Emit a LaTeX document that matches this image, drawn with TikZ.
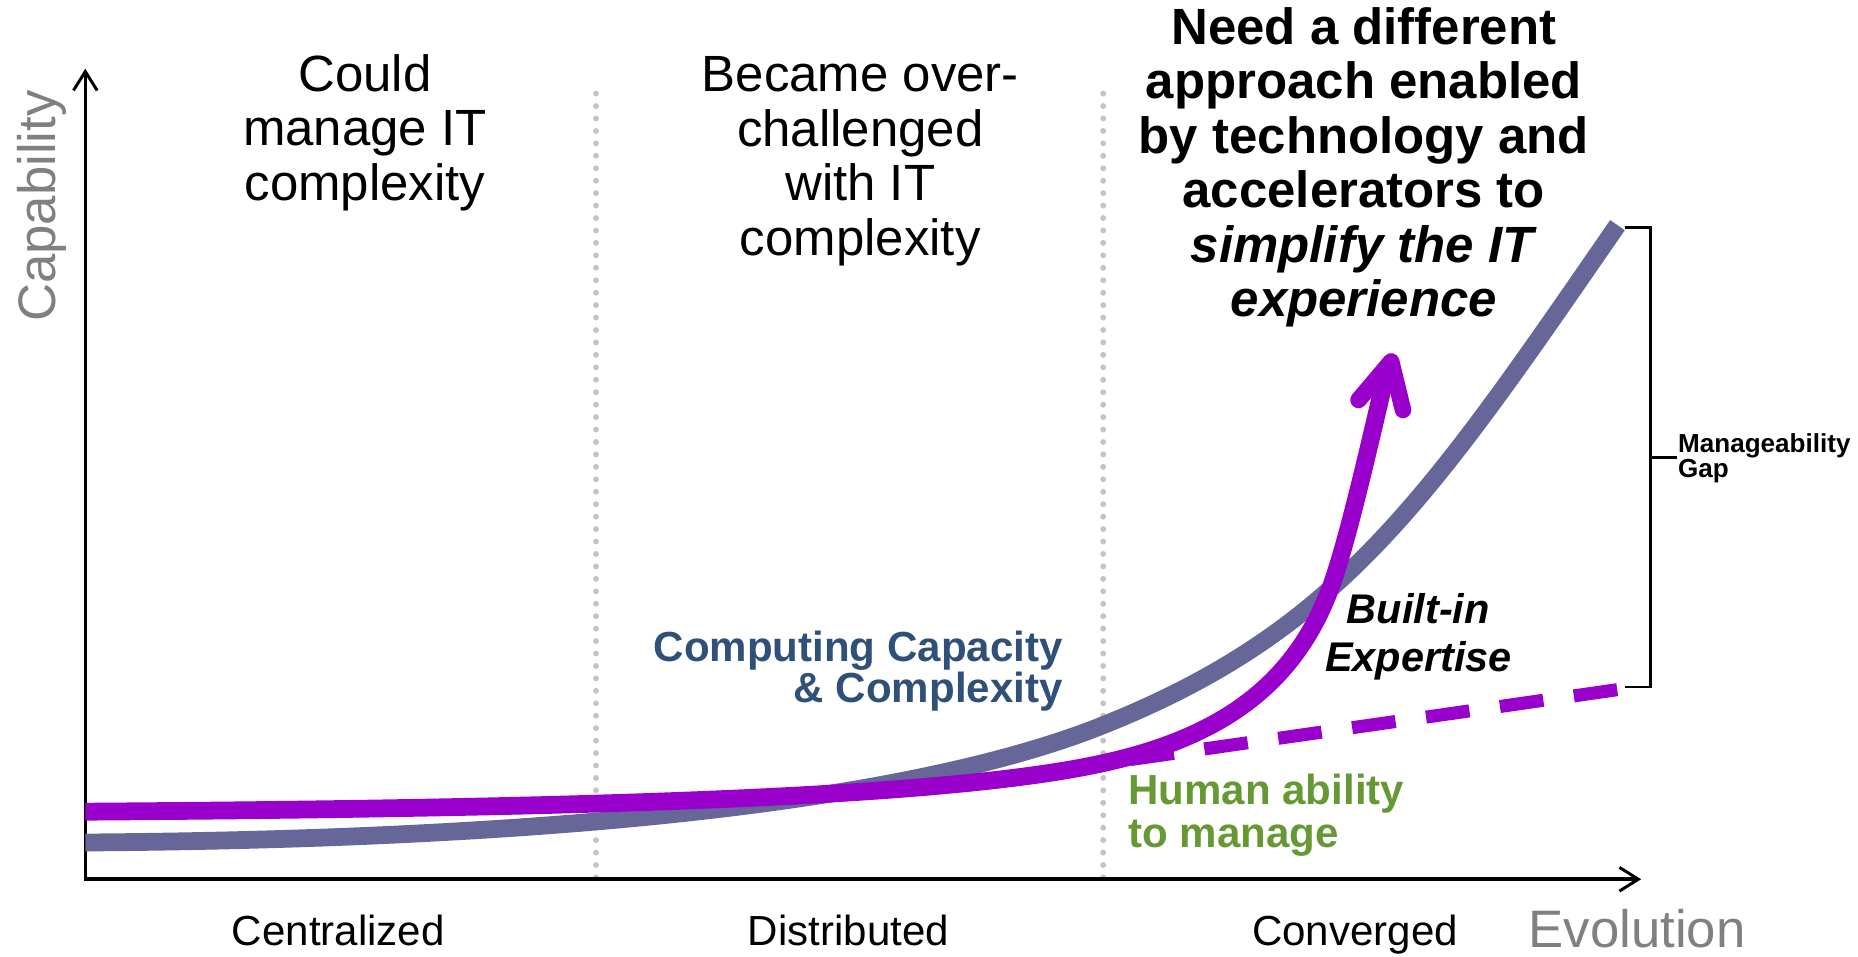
\documentclass[tikz,border=0pt]{standalone}
\usepackage{fontspec}
\setmainfont{Liberation Sans}
\usetikzlibrary{arrows.meta}
\definecolor{purp}{HTML}{9900CC}
\definecolor{slate}{HTML}{666699}
\definecolor{compblue}{HTML}{2E5079}
\definecolor{humangreen}{HTML}{669933}
\definecolor{axisgray}{HTML}{808080}
\definecolor{dotgray}{HTML}{C4C4C4}
\begin{document}
\begin{tikzpicture}[x=1pt,y=-1pt,
  axisline/.style={line width=3pt, line join=miter, {Straight Barb[length=16pt,width=20pt,line width=2.5pt]}-{Straight Barb[length=16pt,width=20pt,line width=2.5pt]}},
  dotline/.style={dotgray, line width=5pt, line cap=round, dash pattern=on 0pt off 10.5pt},
  capcurve/.style={slate, line width=15pt},
  humcurve/.style={purp, line width=15pt},
  humdash/.style={purp, line width=11pt, dash pattern=on 37pt off 26pt},
  arrowhd/.style={purp, line width=14pt, line cap=round, line join=round},
  bracketline/.style={black, line width=2pt},
  toptxt/.style={inner sep=0pt, align=center, anchor=base, font=\fontsize{43}{46}\selectfont},
  titletxt/.style={inner sep=0pt, align=center, anchor=base, font=\bfseries\fontsize{43}{46}\selectfont},
  axlabel/.style={inner sep=0pt, anchor=base, font=\fontsize{35.5}{40}\selectfont},
  bigaxis/.style={inner sep=0pt, anchor=base, text=axisgray, font=\fontsize{44.5}{48}\selectfont},
]
\useasboundingbox (0,0) rectangle (1568,807.6);

% separators
\coordinate (s1t) at (503,79);
\coordinate (s1b) at (503,742);
\coordinate (s2t) at (931,79);
\coordinate (s2b) at (931,742);
\draw[dotline] (s1t) -- (s1b);
\draw[dotline] (s2t) -- (s2b);

% axes
\coordinate (O) at (72,742);
\coordinate (ytop) at (72,58);
\coordinate (xend) at (1385,742);
\draw[axisline] (ytop) -- (O) -- (xend);

% capacity curve
\coordinate (c0) at (72,711);
\coordinate (c1) at (931,612);
\coordinate (c2) at (1365,190);
\draw[capcurve] (c0) .. controls (500,708) and (781,672) .. (c1)
  .. controls (1131,532) and (1205,422) .. (c2);

% human ability dashed
\coordinate (d0) at (954,641);
\coordinate (d1) at (1365,582);
\draw[humdash] (d0) -- (d1);

% built-in expertise curve
\coordinate (h0) at (72,685);
\coordinate (h1) at (931,644);
\coordinate (h2) at (1125,490);
\coordinate (h3) at (1171,310);
\draw[humcurve] (h0) .. controls (500,682) and (800,673) .. (h1)
  .. controls (1031,622) and (1095,577) .. (h2)
  .. controls (1140,446.5) and (1161,352) .. (h3);
\coordinate (tip) at (1174,305);
\coordinate (armL) at (1146.5,337.5);
\coordinate (armR) at (1184,346);
\draw[arrowhd] (armL) -- (tip) -- (armR);

% bracket
\coordinate (bt) at (1371,192);
\coordinate (bb) at (1371,580);
\coordinate (bm) at (1393,386);
\coordinate (bl) at (1415,386);
\draw[bracketline] (bt) -- (1393,192) -- (1393,580) -- (bb);
\draw[bracketline] (bm) -- (bl);

% texts
\node[toptxt] (could) at (308,169) {Could\\manage IT\\complexity};
\node[toptxt] (became) at (726,215.4) {Became over-\\challenged\\with IT\\complexity};
\node[titletxt] (need) at (1151,267.5) {Need a different\\approach enabled\\by technology and\\accelerators to\\\textit{simplify the IT}\\\textit{experience}};

\node[inner sep=0pt, anchor=base east, align=right, text=compblue, font=\bfseries\fontsize{35.5}{35}\selectfont] (comp) at (897,593) {Computing Capacity\\\& Complexity};
\node[inner sep=0pt, anchor=base, align=center, font=\bfseries\itshape\fontsize{35}{41}\selectfont] (built) at (1197,567) {Built-in\\Expertise};
\node[inner sep=0pt, anchor=base west, align=left, text=humangreen, font=\bfseries\fontsize{35.5}{36}\selectfont] (human) at (952,715) {Human ability\\to manage};
\node[inner sep=0pt, anchor=base west, align=left, font=\bfseries\fontsize{22}{21}\selectfont] (gap) at (1416,403) {Manageability\\Gap};

\node[axlabel] (cen) at (285.5,798) {Centralized};
\node[axlabel] (dis) at (716,798) {Distributed};
\node[axlabel] (con) at (1143.5,798) {Converged};
\node[bigaxis] (evo) at (1381.5,800) {Evolution};
\node[bigaxis, rotate=90] (cap) at (47,174) {Capability};
\end{tikzpicture}
\end{document}
